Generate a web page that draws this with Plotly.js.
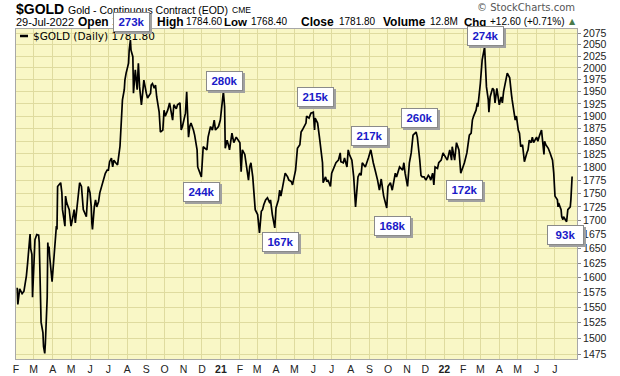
<!DOCTYPE html>
<html>
<head>
<meta charset="utf-8">
<script src="https://cdn.plot.ly/plotly-3.0.1.min.js"></script>
<style>html,body{margin:0;padding:0;background:#fff;}#chart{width:620px;height:376px;}</style>
</head>
<body>
<div id="chart"></div>
<script>
// ---- data ----
const dates = [
'2020-02-03','2020-02-04','2020-02-07','2020-02-11','2020-02-14','2020-02-18','2020-02-20','2020-02-24','2020-02-25','2020-02-27',
'2020-02-28','2020-03-02','2020-03-03','2020-03-06','2020-03-09','2020-03-10','2020-03-12','2020-03-13','2020-03-16','2020-03-17',
'2020-03-19','2020-03-20','2020-03-23','2020-03-24','2020-03-25','2020-03-26','2020-03-27','2020-03-31','2020-04-02','2020-04-06',
'2020-04-07','2020-04-08','2020-04-09','2020-04-14','2020-04-16','2020-04-17','2020-04-21','2020-04-22','2020-04-24','2020-04-28',
'2020-04-30','2020-05-01','2020-05-04','2020-05-06','2020-05-08','2020-05-11','2020-05-15','2020-05-18','2020-05-21','2020-05-26',
'2020-05-27','2020-05-29','2020-06-01','2020-06-03','2020-06-04','2020-06-05','2020-06-08','2020-06-10','2020-06-12','2020-06-15',
'2020-06-17','2020-06-23','2020-06-26','2020-06-29','2020-07-01','2020-07-03','2020-07-06','2020-07-08','2020-07-10','2020-07-13',
'2020-07-16','2020-07-20','2020-07-21','2020-07-23','2020-07-24','2020-07-27','2020-07-28','2020-07-30','2020-08-03','2020-08-04',
'2020-08-06','2020-08-07','2020-08-10','2020-08-11','2020-08-13','2020-08-14','2020-08-17','2020-08-19','2020-08-21','2020-08-24',
'2020-08-26','2020-08-28','2020-09-01','2020-09-03','2020-09-08','2020-09-09','2020-09-11','2020-09-14','2020-09-16','2020-09-18',
'2020-09-22','2020-09-23','2020-09-24','2020-09-28','2020-09-30','2020-10-02','2020-10-06','2020-10-09','2020-10-12','2020-10-14',
'2020-10-16','2020-10-20','2020-10-22','2020-10-26','2020-10-27','2020-10-28','2020-10-30','2020-11-02','2020-11-04','2020-11-06',
'2020-11-09','2020-11-11','2020-11-13','2020-11-17','2020-11-19','2020-11-23','2020-11-24','2020-11-30','2020-12-03','2020-12-09',
'2020-12-11','2020-12-15','2020-12-18','2020-12-21','2020-12-23','2020-12-28','2020-12-29','2020-12-31',
'2021-01-05','2021-01-07','2021-01-08','2021-01-11','2021-01-14','2021-01-15','2021-01-19','2021-01-22','2021-01-26','2021-01-29',
'2021-02-01','2021-02-03','2021-02-05','2021-02-09','2021-02-11','2021-02-15','2021-02-17','2021-02-19','2021-02-22','2021-02-25',
'2021-02-26','2021-03-02','2021-03-05','2021-03-08','2021-03-10','2021-03-12','2021-03-15','2021-03-18','2021-03-22','2021-03-23',
'2021-03-26','2021-03-30','2021-04-01','2021-04-05','2021-04-07','2021-04-09','2021-04-12','2021-04-14','2021-04-16','2021-04-20',
'2021-04-22','2021-04-26','2021-04-28','2021-05-03','2021-05-05','2021-05-06','2021-05-10','2021-05-12','2021-05-14','2021-05-17',
'2021-05-20','2021-05-21','2021-05-25','2021-05-28','2021-06-01','2021-06-03','2021-06-04','2021-06-08','2021-06-10','2021-06-11',
'2021-06-16','2021-06-17','2021-06-21','2021-06-23','2021-06-25','2021-06-29','2021-07-01','2021-07-06','2021-07-08','2021-07-12',
'2021-07-15','2021-07-16','2021-07-20','2021-07-22','2021-07-26','2021-07-28','2021-07-30','2021-08-03','2021-08-06','2021-08-09',
'2021-08-11','2021-08-13','2021-08-16','2021-08-18','2021-08-20','2021-08-25','2021-08-30','2021-09-03','2021-09-07','2021-09-09',
'2021-09-10','2021-09-14','2021-09-17','2021-09-20','2021-09-22','2021-09-24','2021-09-29','2021-10-01','2021-10-05','2021-10-08',
'2021-10-13','2021-10-15','2021-10-20','2021-10-25','2021-10-27','2021-10-29','2021-11-02','2021-11-05','2021-11-08','2021-11-11',
'2021-11-16','2021-11-18','2021-11-22','2021-11-24','2021-11-26','2021-11-29','2021-12-02','2021-12-06','2021-12-08','2021-12-10',
'2021-12-13','2021-12-15','2021-12-17','2021-12-21','2021-12-23','2021-12-27','2021-12-30',
'2022-01-03','2022-01-06','2022-01-10','2022-01-13','2022-01-14','2022-01-18','2022-01-21','2022-01-25','2022-01-28','2022-02-01',
'2022-02-03','2022-02-07','2022-02-09','2022-02-11','2022-02-14','2022-02-16','2022-02-18','2022-02-22','2022-02-24','2022-02-25',
'2022-03-01','2022-03-03','2022-03-04','2022-03-08','2022-03-09','2022-03-10','2022-03-11','2022-03-14','2022-03-15','2022-03-17',
'2022-03-21','2022-03-23','2022-03-25','2022-03-28','2022-03-30','2022-04-01','2022-04-04','2022-04-06','2022-04-08','2022-04-12',
'2022-04-14','2022-04-18','2022-04-19','2022-04-21','2022-04-22','2022-04-25','2022-04-27','2022-04-29','2022-05-02','2022-05-04',
'2022-05-06','2022-05-09','2022-05-12','2022-05-16','2022-05-18','2022-05-20','2022-05-23','2022-05-25','2022-05-27','2022-06-01',
'2022-06-03','2022-06-06','2022-06-09','2022-06-13','2022-06-14','2022-06-16','2022-06-20','2022-06-23','2022-06-27','2022-06-29',
'2022-07-01','2022-07-05','2022-07-06','2022-07-07','2022-07-11','2022-07-12','2022-07-14','2022-07-15','2022-07-20','2022-07-22',
'2022-07-25','2022-07-26','2022-07-27','2022-07-28','2022-07-29'
];
const closes = [
1583,1555,1581,1573,1577,1603,1625,1676,1650,1640,
1567,1625,1666,1675,1674,1661,1593,1526,1509,1487,
1476,1492,1567,1661,1644,1654,1637,1593,1625,1684,
1690,1684,1763,1770,1751,1720,1690,1745,1732,1720,
1702,1690,1707,1720,1696,1725,1770,1763,1720,1707,
1732,1763,1751,1725,1696,1684,1725,1738,1725,1735,
1751,1775,1788,1794,1794,1810,1817,1800,1813,1808,
1804,1840,1862,1900,1933,1954,1974,1989,2010,2038,
2060,2038,2024,1947,1974,1996,1954,2010,1960,1923,
1947,1974,1947,1937,1947,1964,1967,1957,1964,1939,
1908,1886,1868,1872,1912,1900,1912,1927,1908,1892,
1923,1915,1923,1927,1900,1872,1879,1896,1906,1950,
1858,1879,1886,1872,1862,1833,1800,1781,1839,1833,
1858,1879,1872,1892,1872,1879,1886,1892,
1950,1919,1836,1852,1839,1833,1866,1847,1858,1852,
1847,1791,1833,1824,1808,1775,1800,1808,1781,1732,
1720,1711,1678,1717,1720,1729,1738,1742,1732,1738,
1711,1687,1723,1738,1756,1745,1763,1777,1788,1781,
1775,1772,1766,1794,1833,1836,1843,1868,1872,1879,
1886,1900,1896,1906,1908,1872,1896,1886,1872,1858,
1808,1770,1781,1772,1775,1763,1788,1800,1808,1813,
1827,1810,1808,1817,1800,1833,1824,1813,1781,1725,
1763,1781,1788,1784,1808,1800,1817,1833,1808,1800,
1794,1775,1756,1777,1763,1745,1723,1763,1770,1756,
1788,1781,1800,1794,1808,1788,1763,1808,1827,1862,
1868,1858,1813,1784,1781,1781,1775,1784,1781,1775,
1788,1766,1800,1797,1808,1813,1827,
1820,1813,1833,1813,1839,1813,1847,1833,1788,1800,
1808,1827,1852,1862,1866,1892,1900,1912,1927,1919,
1967,1996,2017,2045,2002,1989,1960,1933,1908,1939,
1957,1954,1927,1957,1933,1923,1939,1927,1950,1974,
1989,1979,1960,1943,1933,1912,1892,1900,1872,1866,
1839,1843,1810,1827,1833,1852,1847,1858,1847,1858,
1850,1862,1872,1824,1850,1843,1836,1827,1813,1788,
1745,1738,1725,1732,1720,1707,1702,1707,1698,1720,
1725,1725,1738,1756,1781.8
];
const monthTicks = ['2020-02-01','2020-03-01','2020-04-01','2020-05-01','2020-06-01','2020-07-01','2020-08-01','2020-09-01','2020-10-01','2020-11-01','2020-12-01',
'2021-01-01','2021-02-01','2021-03-01','2021-04-01','2021-05-01','2021-06-01','2021-07-01','2021-08-01','2021-09-01','2021-10-01','2021-11-01','2021-12-01',
'2022-01-01','2022-02-01','2022-03-01','2022-04-01','2022-05-01','2022-06-01','2022-07-01'];
const monthLabels = ['F','M','A','M','J','J','A','S','O','N','D','<b>21</b>','F','M','A','M','J','J','A','S','O','N','D','<b>22</b>','F','M','A','M','J','J'];
const priceTicks = [1475,1500,1525,1550,1575,1600,1625,1650,1675,1700,1725,1750,1775,1800,1825,1850,1875,1900,1925,1950,1975,2000,2025,2050,2075];
const volumeLabels = ['273k','280k','244k','215k','167k','217k','260k','168k','172k','274k','93k'];
const headerInfo = {date:'29-Jul-2022', open:'1769.90', high:'1784.60', low:'1768.40', close:'1781.80', volume:'12.8M', chg:'+12.60 (+0.71%)'};

// ---- layout helpers (pixel -> paper) ----
const L = 16, R = 577, T = 29, B = 359;
const px = x => (x - L) / (R - L);
const py = y => (B - y) / (B - T);
const AR = 'Liberation Sans, Arial, sans-serif';

// volume box centres (x as date, y in pixels)
const boxX = ['2020-08-08','2021-01-07','2020-11-30','2021-06-04','2021-04-08','2021-09-01','2021-11-21','2021-10-08','2022-02-03','2022-03-09','2022-07-19'];
const boxY = [22.5, 81, 192, 97.5, 241.5, 136, 117.5, 226, 190, 36.5, 234.5];

const ann = [];
function txt(x, y, text, size, opts) {
  ann.push(Object.assign({xref:'paper', yref:'paper', x:px(x), y:py(y), text:text, showarrow:false,
    xanchor:'left', yanchor:'middle', font:{family:AR, size:size, color:'#000'}}, opts||{}));
}
// header line 1
txt(14, 9, '<b>$GOLD</b>', 14);
txt(66, 9.5, 'Gold - Continuous Contract (EOD)', 10.5);
txt(230, 10, 'CME', 8.5);
// header line 2
txt(14, 22, headerInfo.date, 11);
txt(76, 22, '<b>Open</b>', 12);
txt(110, 22, headerInfo.open, 10);
txt(155, 22, '<b>High</b>', 12);
txt(184, 22, headerInfo.high, 10);
txt(222, 22, '<b>Low</b>', 11.5);
txt(249, 22, headerInfo.low, 10);
txt(299, 22, '<b>Close</b>', 12);
txt(337, 22, headerInfo.close, 10);
txt(381, 22, '<b>Volume</b>', 12);
txt(428, 22, headerInfo.volume, 10);
txt(462, 22, '<b>Chg</b>', 11.5);
txt(488, 22, headerInfo.chg, 10);
txt(567, 21, '▲', 8, {font:{family:'DejaVu Sans', size:8, color:'#4a7a4a'}});
// copyright
ann.push({xref:'paper', yref:'paper', x:1, y:py(7), xanchor:'right', yanchor:'middle', showarrow:false,
  text:'© StockCharts.com', font:{family:'DejaVu Sans, sans-serif', size:10, color:'#555'}});
// legend text
txt(31, 36, '$GOLD (Daily) ' + headerInfo.close, 10.5, {font:{family:'DejaVu Sans, sans-serif', size:10.5, color:'#000'}});

// volume boxes with shadows
volumeLabels.forEach((lab, i) => {
  ann.push({xref:'x', yref:'paper', x:boxX[i], y:py(boxY[i]), xanchor:'center', yanchor:'middle', xshift:2, yshift:-2, text:lab, showarrow:false,
    width:33, height:16, bgcolor:'#a0a0a0', borderwidth:1, bordercolor:'#a0a0a0', borderpad:1,
    font:{family:AR, size:11, color:'rgba(0,0,0,0)'}});
  ann.push({xref:'x', yref:'paper', x:boxX[i], y:py(boxY[i]), xanchor:'center', yanchor:'middle', text:'<b>'+lab+'</b>', showarrow:false,
    width:33, height:16, bgcolor:'#ffffff', borderwidth:1, bordercolor:'#8a8a8a', borderpad:1,
    font:{family:AR, size:11.5, color:'#1a1ac8'}});
});

const trace = {
  x: dates, y: closes, type:'scatter', mode:'lines',
  line:{color:'#000', width:1.7}, hoverinfo:'skip', showlegend:false
};

const layout = {
  width:620, height:376,
  margin:{l:L, r:620-R, t:T, b:376-B, pad:0},
  paper_bgcolor:'#ffffff', plot_bgcolor:'#f9f7c6',
  showlegend:false,
  xaxis:{type:'date', range:['2020-02-01','2022-08-06'], tickvals:monthTicks, ticktext:monthLabels,
    showgrid:true, gridcolor:'#dfdb9f', gridwidth:1, zeroline:false,
    showline:true, linecolor:'#a8a8a8', mirror:true, ticks:'', tickangle:0,
    tickfont:{family:AR, size:10.5, color:'#222'}},
  yaxis:{type:'log', side:'right', range:[Math.log10(1467.3), Math.log10(2084.5)],
    tickvals:priceTicks, ticktext:priceTicks.map(String),
    showgrid:true, gridcolor:'#dfdb9f', gridwidth:1, zeroline:false,
    showline:true, linecolor:'#a8a8a8', mirror:true, ticks:'outside', ticklen:3, tickcolor:'#888',
    tickfont:{family:AR, size:10.5, color:'#222'}},
  shapes:[{type:'line', xref:'paper', yref:'paper', x0:px(20), x1:px(28), y0:py(36), y1:py(36), line:{color:'#000', width:2.5}}],
  annotations: ann
};

Plotly.newPlot('chart', [trace], layout, {displayModeBar:false, staticPlot:true});
</script>
</body>
</html>
